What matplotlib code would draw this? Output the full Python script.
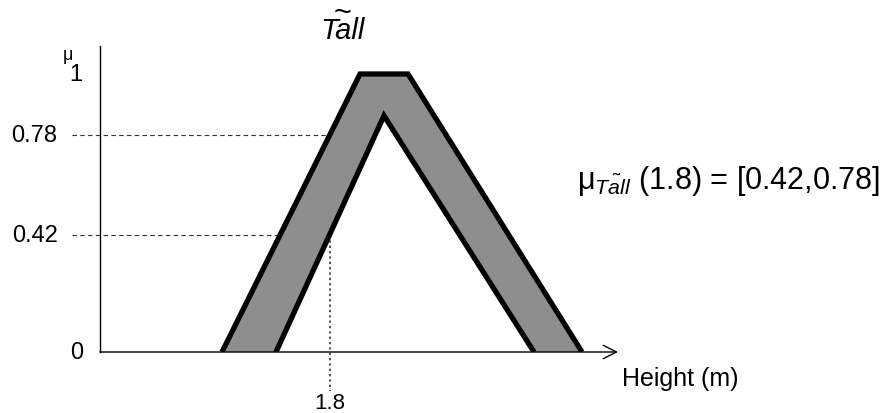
import matplotlib
matplotlib.use("Agg")
import matplotlib.pyplot as plt
from matplotlib.patches import Rectangle, Polygon

plt.rcParams["font.family"] = ["Liberation Sans", "DejaVu Sans"]
plt.rcParams["mathtext.fontset"] = "custom"
plt.rcParams["mathtext.rm"] = "Liberation Sans"
plt.rcParams["mathtext.it"] = "Liberation Sans:italic"

# Interval type-2 fuzzy set "Tall": upper (trapezoid) and lower (triangle) membership functions
upper_x = [1.62, 1.85, 1.93, 2.22]
upper_mu = [0.0, 1.0, 1.0, 0.0]
lower_x = [1.71, 1.89, 2.14]
lower_mu = [0.0, 0.85, 0.0]

x_query = 1.8
mu_interval = [0.42, 0.78]
y_ticks = [0, 0.42, 0.78, 1]
y_tick_labels = ["0", "0.42", "0.78", "1"]

axis_x0 = 1.4167
axis_x1 = 2.28
axis_ytop = 1.1

fig = plt.figure(figsize=(8.89, 4.14), dpi=100)
ax = fig.add_axes([0, 0, 1, 1])
ax.set_axis_off()
ax.set_xlim(1.25, 2.73167)
ax.set_ylim(-0.21942, 1.26978)

# dashed guides for the membership interval at x = 1.8
for m in mu_interval:
    ax.plot([1.37, x_query], [m, m], color="#333333", lw=0.8,
            dashes=(4, 3), zorder=1)

# footprint of uncertainty
ax.add_patch(Polygon(list(zip(upper_x, upper_mu)), closed=True,
                     facecolor="#8e8e8e", edgecolor="none", zorder=2))
ax.add_patch(Polygon(list(zip(lower_x, lower_mu)), closed=True,
                     facecolor="white", edgecolor="none", zorder=3))

# vertical dotted guide from the lower bound down past the axis
ax.plot([x_query, x_query], [min(mu_interval), -0.14], color="#222222",
        lw=1.1, dashes=(1.5, 2.0), zorder=4, clip_on=False)

clip = Rectangle((1.25, 0), 2.0, 2.0, transform=ax.transData)
for xs, ys in [(upper_x, upper_mu), (lower_x, lower_mu)]:
    ln, = ax.plot(xs, ys, color="black", lw=3.8, solid_joinstyle="miter",
                  solid_capstyle="butt", zorder=5)
    ln.set_clip_path(clip)

# axes
ax.plot([axis_x0, axis_x0], [0, axis_ytop], color="black", lw=1.0, zorder=6)
ax.annotate("", xy=(axis_x1, 0), xytext=(axis_x0, 0),
            arrowprops=dict(arrowstyle="->,head_length=0.95,head_width=0.48",
                            lw=1.0, color="black", shrinkA=0, shrinkB=0),
            zorder=6)

# y tick labels
for v, lab in zip(y_ticks, y_tick_labels):
    xr = 1.388 if lab in ("0", "1") else 1.346
    ax.text(xr, v, lab, ha="right", va="center", fontsize=17, zorder=7)
ax.text(1.363, 1.07, "μ", ha="center", va="center", fontsize=13)

# x labels
ax.text(x_query, -0.183, "1.8", ha="center", va="center", fontsize=16)
ax.text(2.287, -0.094, "Height (m)", ha="left", va="center", fontsize=18)

# title with its tilde
ax.text(1.8217, 1.16, "Tall", ha="center", va="center", fontsize=21,
        style="italic")
ax.text(1.821, 1.218, "~", ha="center", va="center", fontsize=22)

# membership interval annotation
ax.text(2.212, 0.62,
        r"$\mathrm{\mu}_{\tilde{Tall}}$ (1.8) = [0.42,0.78]",
        ha="left", va="center", fontsize=22)

fig.savefig("out.png", dpi=100)
